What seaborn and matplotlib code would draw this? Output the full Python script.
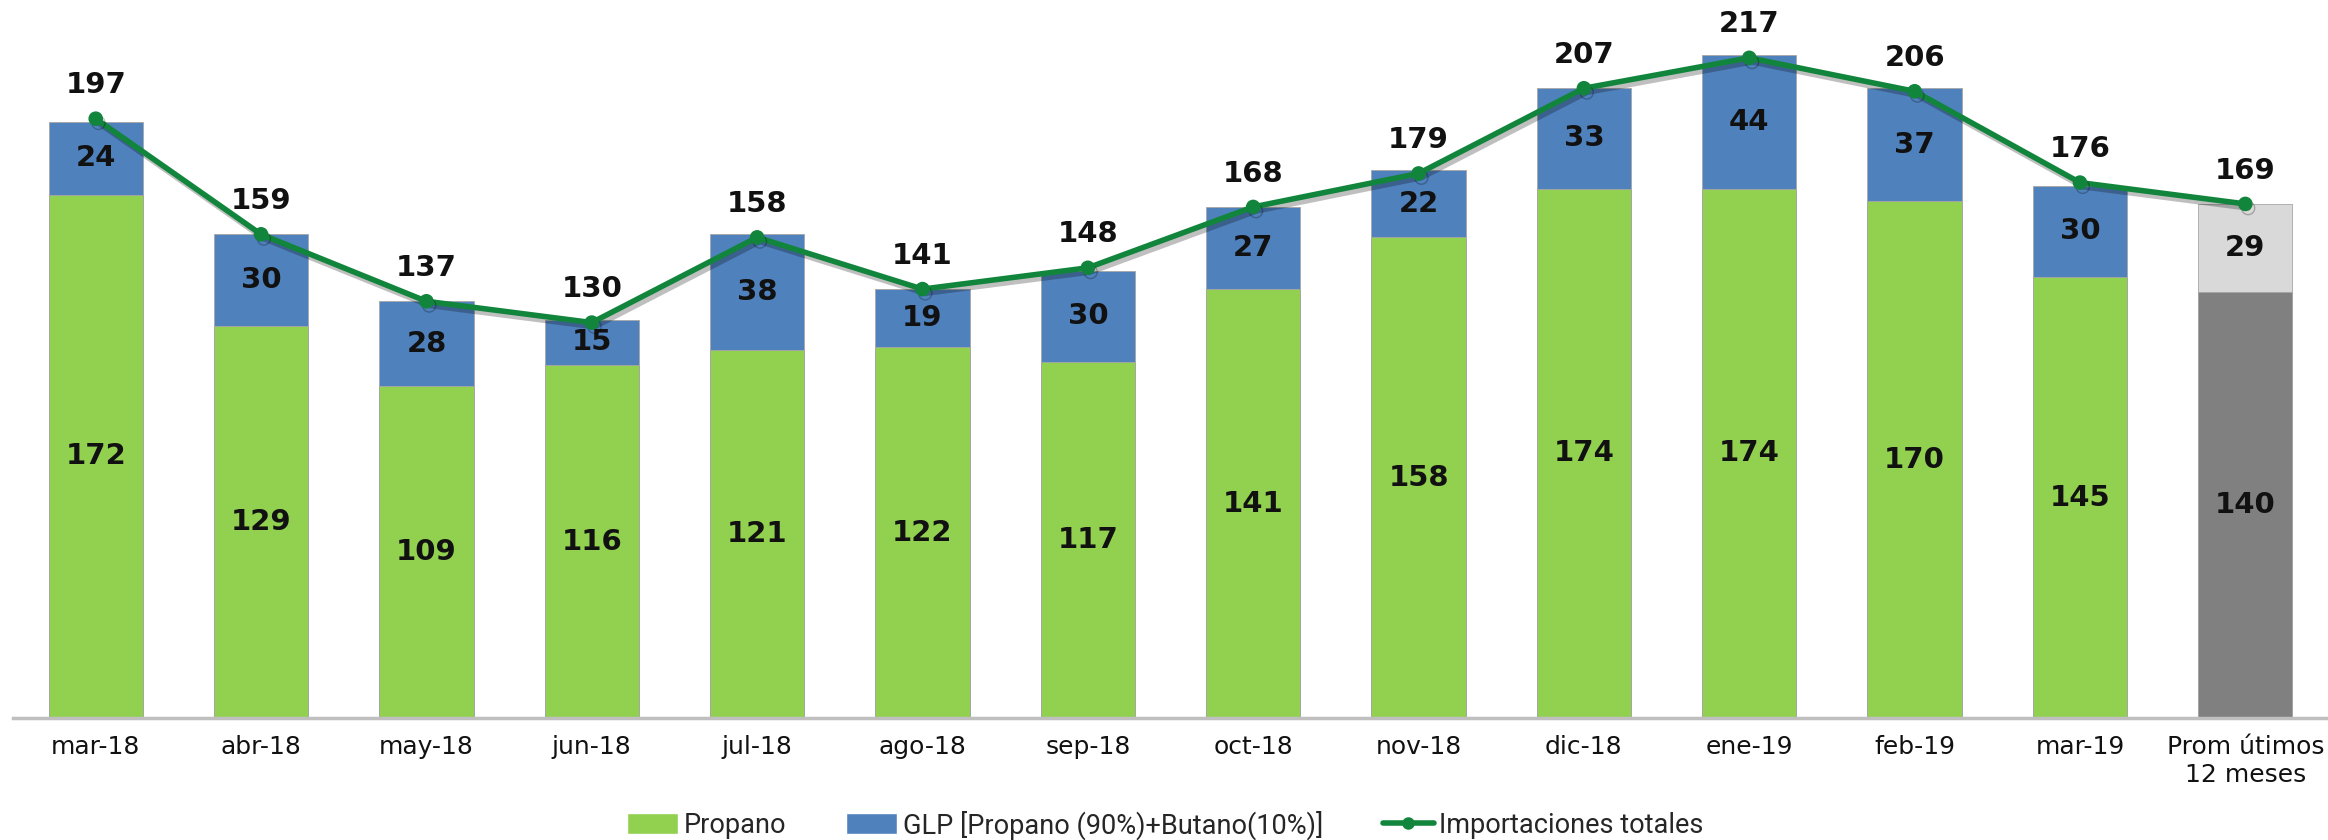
import numpy as np
import pandas as pd
import matplotlib
matplotlib.use('Agg')
import matplotlib.pyplot as plt
import matplotlib.patheffects as pe
from matplotlib.patches import Patch
from matplotlib.lines import Line2D
import seaborn as sns

# Data
months = ['mar-18', 'abr-18', 'may-18', 'jun-18', 'jul-18', 'ago-18', 'sep-18',
          'oct-18', 'nov-18', 'dic-18', 'ene-19', 'feb-19', 'mar-19',
          'Prom útimos\n12 meses']
propano = [172, 129, 109, 116, 121, 122, 117, 141, 158, 174, 174, 170, 145, 140]
glp = [24, 30, 28, 15, 38, 19, 30, 27, 22, 33, 44, 37, 30, 29]
totales = [197, 159, 137, 130, 158, 141, 148, 168, 179, 207, 217, 206, 176, 169]

green = '#92D050'
blue = '#4F81BD'
dark_grey = '#808080'
light_grey = '#D9D9D9'
line_green = '#12853C'

sns.set_style('white')
plt.rcParams['font.family'] = ['DejaVu Sans']

df = pd.DataFrame({'Mes': months, 'Propano': propano, 'GLP': glp, 'Total': totales})
df['Stack'] = df['Propano'] + df['GLP']

fig = plt.figure(figsize=(23.28, 8.4), dpi=100)
ax = fig.add_axes([0.0056, 0.145, 0.9944, 0.855])

top_colors = [blue] * 13 + [light_grey]
bottom_colors = [green] * 13 + [dark_grey]

sns.barplot(data=df, x='Mes', y='Stack', hue='Mes', palette=top_colors,
            legend=False, width=0.57, edgecolor='#A6A6A6', linewidth=0.6,
            saturation=1, ax=ax)
sns.barplot(data=df, x='Mes', y='Propano', hue='Mes', palette=bottom_colors,
            legend=False, width=0.57, edgecolor='#A6A6A6', linewidth=0.6,
            saturation=1, ax=ax)

xs = np.arange(len(months))
ax.plot(xs, df['Total'], color=line_green, lw=4, marker='o', ms=9.5, zorder=5,
        path_effects=[pe.SimpleLineShadow(offset=(2, -3), alpha=0.25), pe.Normal()])

for i in range(len(months)):
    ax.text(i, propano[i] / 2, str(propano[i]), ha='center', va='center',
            fontsize=21, fontweight='bold', color='#111111')
    ax.text(i, propano[i] + glp[i] / 2, str(glp[i]), ha='center', va='center',
            fontsize=21, fontweight='bold', color='#111111')
    ax.annotate(str(totales[i]), (i, totales[i]), xytext=(0, 24),
                textcoords='offset points', ha='center', va='center',
                fontsize=21, fontweight='bold', color='#111111')

ax.set_ylim(0, 236)
ax.set_xlim(-0.5, 13.5)
ax.set_xlabel('')
ax.set_ylabel('')
ax.set_yticks([])
sns.despine(ax=ax, left=True)
ax.spines['bottom'].set_color('#BFBFBF')
ax.spines['bottom'].set_linewidth(2.5)
ax.tick_params(axis='x', length=0, pad=12, labelsize=18, colors='#111111')

handles = [Patch(facecolor=green, label='Propano'),
           Patch(facecolor=blue, label='GLP [Propano (90%)+Butano(10%)]'),
           Line2D([0], [0], color=line_green, lw=4, marker='o', ms=8,
                  label='Importaciones totales')]
fig.legend(handles=handles, loc='center', bbox_to_anchor=(0.5006, 0.018), ncol=3,
           frameon=False, handlelength=1.9, handleheight=0.8,
           columnspacing=2.2, handletextpad=0.2,
           prop={'family': ['Roboto', 'DejaVu Sans'], 'size': 19.5})

fig.savefig('out.png', dpi=100)
